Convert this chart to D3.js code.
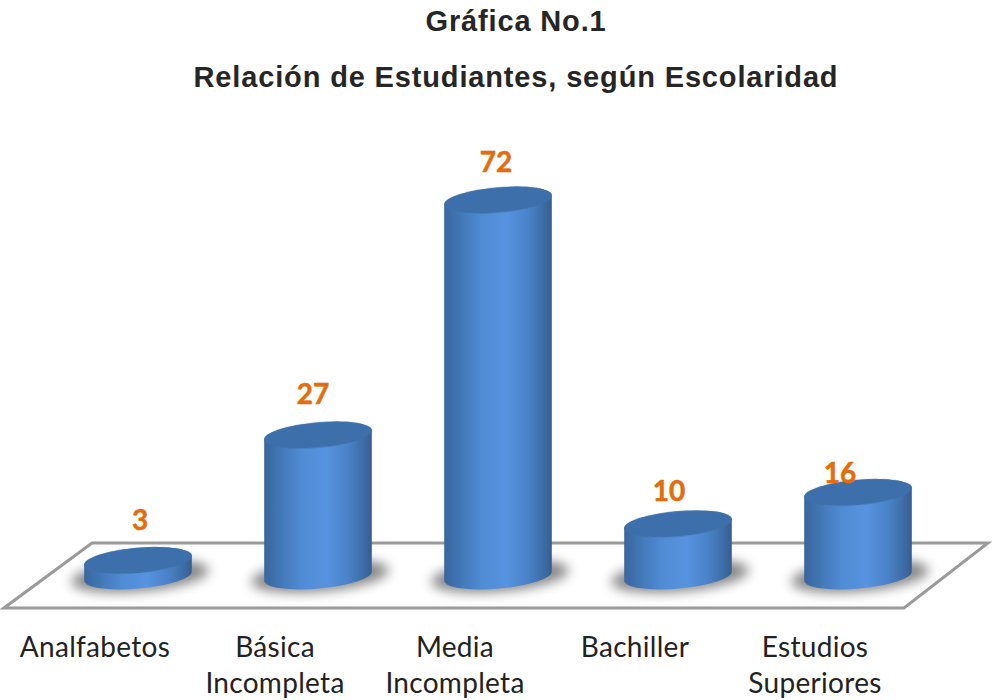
<!DOCTYPE html>
<html><head><meta charset="utf-8">
<script src="https://cdn.jsdelivr.net/npm/d3@7"></script>
<style>html,body{margin:0;background:#fff}svg{display:block}</style></head>
<body><svg id="c" width="992" height="700"></svg>
<script>
const categories = [["Analfabetos"],["Básica","Incompleta"],["Media","Incompleta"],["Bachiller"],["Estudios","Superiores"]];
const values = [3,27,72,10,16];
const titleLines = ["Gráfica No.1","Relación de Estudiantes, según Escolaridad"];

const baseY=576,topY=200;
const svg=d3.select("#c");
const x=d3.scaleBand().domain(d3.range(values.length)).range([48,948]).paddingInner(0.4).paddingOuter(0.2);
const y=d3.scaleLinear().domain([0,72]).range([baseY,topY]);
const rx=x.bandwidth()/2, ry=12.6, tilt=-5;
const labelDx=[2,-5,-2,-9,-18];
const labelDy=[-30,-31,-28,-23,-9];
const labelColor="#E46C0A";

const defs=svg.append("defs");
const side=defs.append("linearGradient").attr("id","side");
[[0,"#3a669c"],[.12,"#4074b2"],[.35,"#508bd4"],[.58,"#5793e0"],[.78,"#4a82c8"],[.92,"#3e6da6"],[1,"#365f92"]]
 .forEach(s=>side.append("stop").attr("offset",s[0]).attr("stop-color",s[1]));
defs.append("filter").attr("id","blur").attr("x","-30%").attr("y","-100%").attr("width","160%").attr("height","300%")
  .append("feGaussianBlur").attr("stdDeviation",6);
defs.append("filter").attr("id","soft").attr("x","-5%").attr("y","-5%").attr("width","110%").attr("height","110%")
  .append("feGaussianBlur").attr("stdDeviation",0.6);

svg.append("g").selectAll("text").data(titleLines).join("text")
  .attr("x",516).attr("y",(d,i)=>i?87:31).attr("text-anchor","middle")
  .attr("font-family","'Liberation Sans',Arial,sans-serif").attr("font-weight","bold").attr("font-size",29)
  .attr("letter-spacing",.85).attr("fill","#262626").text(d=>d);

svg.append("path").attr("d",d3.line()([[4,608],[904,608],[988,543],[92,543]])+"Z")
  .attr("fill","#fff").attr("stroke","#9a9a9a").attr("stroke-width",3);

const g=svg.append("g").selectAll("g").data(values).join("g").attr("class","bar");
const cx=i=>x(i)+rx;
g.append("ellipse").attr("cx",(d,i)=>cx(i)+2).attr("cy",baseY).attr("rx",rx+15).attr("ry",ry+3)
  .attr("transform",(d,i)=>`rotate(${tilt} ${cx(i)+2} ${baseY})`)
  .attr("fill","#555").attr("opacity",.7).attr("filter","url(#blur)");
const a=tilt*Math.PI/180, ex=rx*Math.cos(a), ey=rx*Math.sin(a);
g.append("path").attr("fill","url(#side)").attr("filter","url(#soft)").attr("d",(d,i)=>{
  const c=cx(i),yb=baseY,yt=y(d);
  return `M${c-ex},${yt-ey} L${c-ex},${yb-ey} A${rx},${ry} ${tilt} 0 0 ${c+ex},${yb+ey} L${c+ex},${yt+ey} A${rx},${ry} ${tilt} 0 0 ${c-ex},${yt-ey} Z`;
});
g.append("ellipse").attr("cx",(d,i)=>cx(i)).attr("cy",d=>y(d)).attr("rx",rx).attr("ry",ry)
  .attr("transform",(d,i)=>`rotate(${tilt} ${cx(i)} ${y(d)})`).attr("fill","#3d70ab").attr("filter","url(#soft)");

svg.append("g").selectAll("text").data(values).join("text")
  .attr("x",(d,i)=>cx(i)+labelDx[i]).attr("y",(d,i)=>y(d)+labelDy[i]).attr("text-anchor","middle")
  .attr("font-family","Lato,sans-serif").attr("font-weight","bold").attr("font-size",28)
  .attr("stroke",labelColor).attr("stroke-width",.5).attr("fill",labelColor).text(d=>d);

const cat=svg.append("g").selectAll("text").data(categories).join("text")
  .attr("text-anchor","middle").attr("font-family","Lato,sans-serif").attr("font-size",28)
  .attr("letter-spacing",.3).attr("fill","#222");
cat.selectAll("tspan").data((d,i)=>d.map(t=>({t,i}))).join("tspan")
  .attr("x",d=>cx(d.i)-43).attr("y",(d,j)=>657+j*36).text(d=>d.t);
</script></body></html>
